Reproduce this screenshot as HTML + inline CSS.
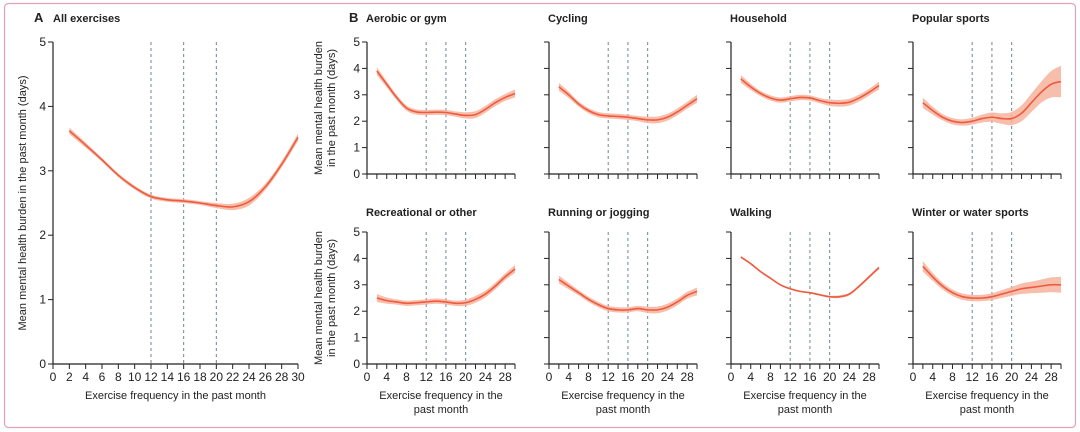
<!DOCTYPE html>
<html><head><meta charset="utf-8"><style>
body{margin:0;background:#fff;}
svg{display:block;font-family:"Liberation Sans",sans-serif;}
</style></head><body>
<svg id="chart" width="1080" height="432" xmlns="http://www.w3.org/2000/svg">
<rect x="4.5" y="3.5" width="1071" height="424" rx="4" fill="none" stroke="#e3a2b8" stroke-width="1.2"/>
</svg>
<script>
const xs = [2,4,6,8,10,12,14,16,18,20,22,24,26,28,30];
const panelNames = ["All exercises","Aerobic or gym","Cycling","Household","Popular sports","Recreational or other","Running or jogging","Walking","Winter or water sports"];
const allEx   = [3.62,3.4,3.17,2.93,2.74,2.6,2.55,2.53,2.5,2.46,2.44,2.52,2.75,3.1,3.52];
const aerobic = [3.9,3.4,2.9,2.5,2.35,2.33,2.34,2.33,2.27,2.22,2.25,2.45,2.7,2.9,3.05];
const cycling = [3.3,3.0,2.65,2.4,2.25,2.2,2.18,2.15,2.1,2.05,2.05,2.15,2.35,2.6,2.85];
const household=[3.6,3.3,3.05,2.88,2.8,2.85,2.9,2.88,2.78,2.7,2.68,2.72,2.88,3.1,3.35];
const popular = [2.7,2.4,2.15,2.0,1.95,2.0,2.1,2.15,2.1,2.1,2.3,2.7,3.1,3.4,3.5];
const recreat = [2.5,2.4,2.35,2.3,2.32,2.35,2.38,2.35,2.3,2.32,2.45,2.65,2.95,3.3,3.6];
const running = [3.2,2.95,2.7,2.45,2.25,2.1,2.05,2.05,2.1,2.05,2.05,2.15,2.35,2.6,2.75];
const walking = [4.05,3.8,3.5,3.25,3.0,2.85,2.75,2.7,2.62,2.55,2.55,2.65,2.95,3.3,3.65];
const winter  = [3.7,3.3,2.95,2.7,2.55,2.5,2.5,2.55,2.65,2.75,2.85,2.9,2.95,3.0,3.0];
const ciAll   = [0.05,0.04,0.03,0.03,0.03,0.03,0.03,0.03,0.03,0.04,0.05,0.06,0.05,0.05,0.06];
const ciSmall = [0.15,0.12,0.1,0.1,0.1,0.1,0.1,0.1,0.1,0.12,0.13,0.13,0.13,0.13,0.15];
const ciPop   = [0.2,0.15,0.12,0.12,0.12,0.13,0.15,0.18,0.2,0.25,0.3,0.35,0.4,0.5,0.6];
const ciWalk  = [0.04,0.03,0.03,0.03,0.03,0.03,0.03,0.03,0.03,0.04,0.05,0.05,0.05,0.05,0.06];
const ciWint  = [0.2,0.15,0.13,0.12,0.12,0.12,0.12,0.13,0.15,0.17,0.2,0.22,0.25,0.28,0.3];
const yTicks = [0,1,2,3,4,5];
const xTicksA = [0,2,4,6,8,10,12,14,16,18,20,22,24,26,28,30];
const xLabelsB = [0,4,8,12,16,20,24,28];
const dashX = [12,16,20];

const svg = document.getElementById('chart');
const NS = "http://www.w3.org/2000/svg";
function mk(tag, attrs, parent){const e=document.createElementNS(NS,tag);for(const k in attrs)e.setAttribute(k,attrs[k]);(parent||svg).appendChild(e);return e;}
function txt(s, attrs, parent){const e=mk('text',attrs,parent);e.textContent=s;return e;}
function smooth(pts){let d=`M${pts[0][0]},${pts[0][1]}`;for(let i=0;i<pts.length-1;i++){const p0=pts[Math.max(0,i-1)],p1=pts[i],p2=pts[i+1],p3=pts[Math.min(pts.length-1,i+2)];d+=` C${p1[0]+(p2[0]-p0[0])/6},${p1[1]+(p2[1]-p0[1])/6} ${p2[0]-(p3[0]-p1[0])/6},${p2[1]-(p3[1]-p1[1])/6} ${p2[0]},${p2[1]}`;}return d;}
function smoothCont(pts){let d='';for(let i=0;i<pts.length-1;i++){const p0=pts[Math.max(0,i-1)],p1=pts[i],p2=pts[i+1],p3=pts[Math.min(pts.length-1,i+2)];d+=` C${p1[0]+(p2[0]-p0[0])/6},${p1[1]+(p2[1]-p0[1])/6} ${p2[0]-(p3[0]-p1[0])/6},${p2[1]-(p3[1]-p1[1])/6} ${p2[0]},${p2[1]}`;}return d;}

function panel(o){
  const g=mk('g',{});
  
  
  const sx=v=>o.x0+(v/30)*(o.x1-o.x0);
  const sy=v=>o.y0-(v/5)*(o.y0-o.y5);
  dashX.forEach(d=>{const l=mk('line',{x1:sx(d),x2:sx(d),y1:o.y5,y2:o.y0,stroke:'#6d8791','stroke-width':1,'stroke-dasharray':'3,3'},g);
    
    });
  const up=xs.map((x,i)=>[sx(x),sy(o.vals[i]+o.ci[i])]);
  const lo=xs.map((x,i)=>[sx(x),sy(o.vals[i]-o.ci[i])]).reverse();
  const band=mk('path',{d:smooth(up)+` L${lo[0][0]},${lo[0][1]}`+smoothCont(lo)+'Z',fill:'#f6b49c',opacity:0.85},g);
  
  
  const line=mk('path',{d:smooth(xs.map((x,i)=>[sx(x),sy(o.vals[i])])),fill:'none',stroke:'#ee5a3f','stroke-width':1.6},g);
  
  
  mk('line',{x1:o.x0,x2:o.x0,y1:o.y5,y2:o.y0,stroke:'#222','stroke-width':1.2},g);
  mk('line',{x1:o.x0,x2:o.x1,y1:o.y0,y2:o.y0,stroke:'#222','stroke-width':1.2},g);
  yTicks.forEach(t=>{mk('line',{x1:o.x0-5,x2:o.x0,y1:sy(t),y2:sy(t),stroke:'#222','stroke-width':1},g);
    if(o.ylab){const e=txt(String(t),{x:o.x0-7,y:sy(t)+4,'font-size':12,'text-anchor':'end',fill:'#222'},g);
      
      }});
  xTicksA.forEach(t=>{mk('line',{x1:sx(t),x2:sx(t),y1:o.y0,y2:o.y0+5,stroke:'#222','stroke-width':1},g);});
  const labs=o.big?xTicksA:(o.xlab?xLabelsB:[]);
  labs.forEach(t=>{const e=txt(String(t),{x:sx(t),y:o.y0+17,'font-size':12,'text-anchor':'middle',fill:'#222'},g);
    
    });
  const tt=txt(o.title,{x:o.tx,y:o.ty,'font-size':11,'font-weight':'bold',fill:'#222'},g);
  
  
  if(o.xlab){
    if(o.big){const e=txt('Exercise frequency in the past month',{x:(o.x0+o.x1)/2,y:o.y0+35,'font-size':11,'text-anchor':'middle',fill:'#222'},g);
      }
    else{const e=txt('',{x:(o.x0+o.x1)/2,'font-size':11,'text-anchor':'middle',fill:'#222'},g);
      
      const a=mk('tspan',{x:(o.x0+o.x1)/2,y:o.y0+35},e);a.textContent='Exercise frequency in the';
      const b=mk('tspan',{x:(o.x0+o.x1)/2,y:o.y0+49},e);b.textContent='past month';}
  }
  if(o.ytitle){
    const e=txt('',{'font-size':11,'text-anchor':'middle',fill:'#222',transform:`translate(${o.ytx},${(o.y0+o.y5)/2}) rotate(-90)`},g);
    
    o.ytitle.forEach((s,i)=>{const t=mk('tspan',{x:0,y:i*13},e);t.textContent=s;});
  }
}
txt('A',{x:34,y:22,'font-size':13,'font-weight':'bold',fill:'#222'});
txt('B',{x:349,y:22,'font-size':13,'font-weight':'bold',fill:'#222'});
panel({name:'panel-all-exercises',x0:53,x1:298,y0:364,y5:42,vals:allEx,ci:ciAll,title:'All exercises',tx:53,ty:22,ylab:true,big:true,xlab:true,ytitle:['Mean mental health burden in the past month (days)'],ytx:26});
const series=[aerobic,cycling,household,popular,recreat,running,walking,winter];
const cis=[ciSmall,ciSmall,ciSmall,ciPop,ciSmall,ciSmall,ciWalk,ciWint];
const names=['aerobic','cycling','household','popular-sports','recreational','running','walking','winter-water'];
for(let i=0;i<8;i++){
  const col=i%4,row=Math.floor(i/4);
  const x0=367+col*182;
  panel({name:'panel-'+names[i],x0:x0,x1:x0+148,y0:row?364:174,y5:row?232:42,vals:series[i],ci:cis[i],title:panelNames[i+1],tx:x0-1,ty:row?216:22,ylab:col===0,big:false,xlab:row===1,
    ytitle:col===0?['Mean mental health burden','in the past month (days)']:null,ytx:322});
}
</script>
</body></html>
